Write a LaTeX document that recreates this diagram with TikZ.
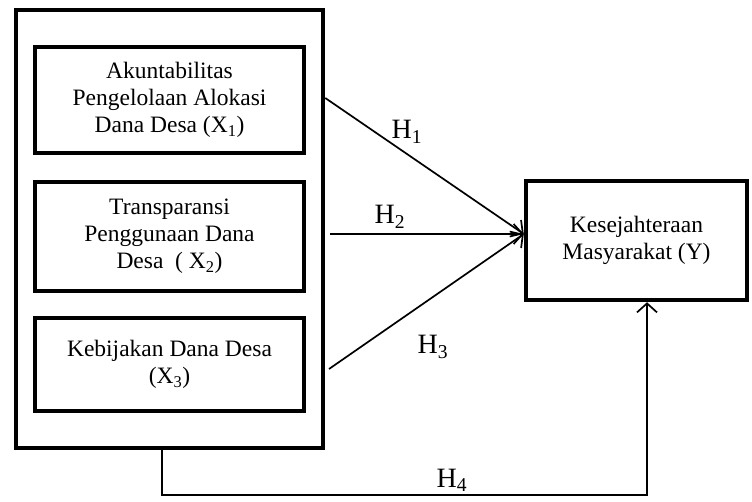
\documentclass[tikz,border=0pt]{standalone}
\usepackage{fontspec}
\setmainfont{Liberation Serif}
\usetikzlibrary{arrows.meta,calc}

\tikzset{
  varbox/.style={draw,line width=4.5pt,minimum width=269pt,align=center,inner sep=0pt,
    font=\fontsize{23.5}{27}\selectfont},
  hyp/.style={line width=1.7pt,-{Straight Barb[length=9pt,width=20pt,line width=1.7pt]}},
  hlabel/.style={font=\fontsize{28}{30}\selectfont,inner sep=0pt}
}

\begin{document}
\begin{tikzpicture}[x=1pt,y=-1pt]
\useasboundingbox (0,0) rectangle (752,502);

% variabel bebas
\node[varbox,minimum width=307pt,minimum height=438pt] (grp) at (169.5,229) {};
\node[varbox,minimum height=106pt] (x1) at (169.5,100) {Akuntabilitas\\Pengelolaan Alokasi\\Dana Desa (X\textsubscript{1})};
\node[varbox,minimum height=109pt] (x2) at (169.5,236.5) {Transparansi\\Penggunaan Dana\\Desa\ \ ( X\textsubscript{2})};
\node[varbox,minimum height=93pt] (x3) at (169.5,364.5) {Kebijakan Dana Desa\\(X\textsubscript{3})};

% variabel terikat
\node[varbox,minimum width=221pt,minimum height=119pt] (yv) at (636.5,240.5) {Kesejahteraan\\Masyarakat (Y)};

\coordinate (tip) at ($(yv.west)+(0,-6.5)$);
\coordinate (h1s) at (grp.east |- 0,98);
\coordinate (h2s) at (330,234);
\coordinate (h3s) at (329,369);
\coordinate (h4s) at (162,450);
\coordinate (h4c) at (647,495);

\draw[hyp] (h1s) -- (tip);
\draw[hyp] (h2s) -- (tip);
\draw[hyp] (h3s) -- (tip);
\draw[hyp] (h4s) |- (h4c) -- (yv.south -| h4c);

\node[hlabel] (h1) at (407,132) {H\textsubscript{1}};
\node[hlabel] (h2) at (390,217) {H\textsubscript{2}};
\node[hlabel] (h3) at (433,347) {H\textsubscript{3}};
\node[hlabel] (h4) at (452,480) {H\textsubscript{4}};
\end{tikzpicture}
\end{document}
